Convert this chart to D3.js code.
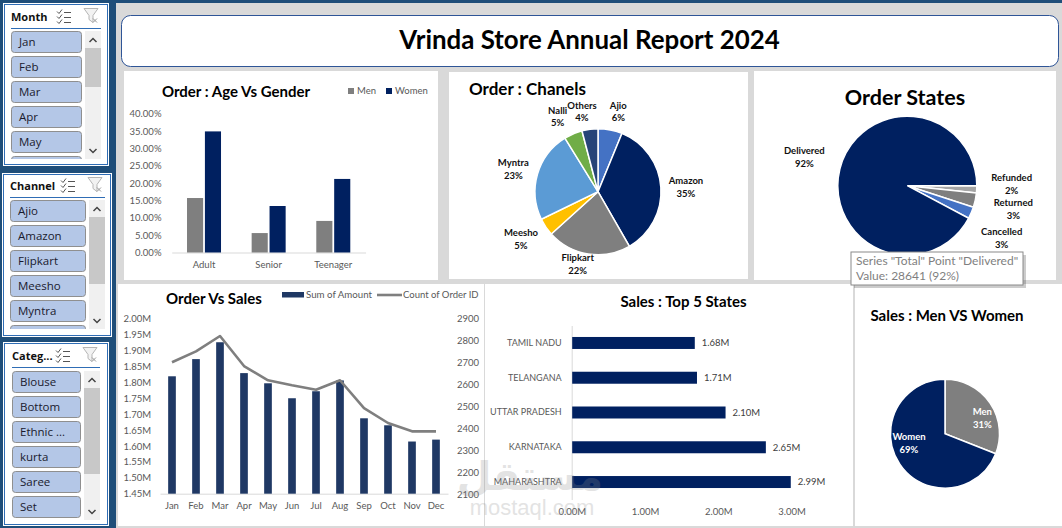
<!DOCTYPE html>
<html>
<head>
<meta charset="utf-8">
<script src="https://cdn.jsdelivr.net/npm/d3@7"></script>
<style>
  html, body { margin: 0; padding: 0; background: #d9d9d9; overflow: hidden; }
  text { font-family: Lato, "Noto Sans", sans-serif; }
  .axis text { fill: #595959; font-size: 9.5px; }
  .axis path, .axis line { stroke: #d9d9d9; }
  .title { font-weight: 700; fill: #000; }
  .pielabel { font-size: 9.5px; font-weight: 700; fill: #111; text-anchor: middle; }
  .slicer text { font-family: "Open Sans", sans-serif; }
</style>
</head>
<body>
<script>
// slicers
const months = ['Jan', 'Feb', 'Mar', 'Apr', 'May'];
const channels = ['Ajio', 'Amazon', 'Flipkart', 'Meesho', 'Myntra'];
const categories = ['Blouse', 'Bottom', 'Ethnic ...', 'kurta', 'Saree', 'Set'];

// age vs gender
const ageGroups = ['Adult', 'Senior', 'Teenager'];
const genders = ['Men', 'Women'];
const menShare = [15.7, 5.6, 9.1];
const womenShare = [34.9, 13.4, 21.2];
const shareTicks = [0, 5, 10, 15, 20, 25, 30, 35, 40];

// channels
const channelNames = ['Ajio', 'Amazon', 'Flipkart', 'Meesho', 'Myntra', 'Nalli', 'Others'];
const channelShare = [6.2, 35.5, 21.6, 4.5, 23.4, 4.7, 4.1];
const channelLabels = ['6%', '35%', '22%', '5%', '23%', '5%', '4%'];

// order states
const stateNames = ['Refunded', 'Returned', 'Cancelled', 'Delivered'];
const stateCounts = [517, 1045, 844, 28641];
const stateLabels = ['2%', '3%', '3%', '92%'];

// order vs sales
const monthNames = ['Jan', 'Feb', 'Mar', 'Apr', 'May', 'Jun', 'Jul', 'Aug', 'Sep', 'Oct', 'Nov', 'Dec'];
const monthAmount = [1.819, 1.873, 1.926, 1.829, 1.797, 1.75, 1.772, 1.806, 1.687, 1.665, 1.614, 1.62];
const monthOrders = [2701, 2751, 2821, 2684, 2619, 2596, 2576, 2619, 2492, 2424, 2386, 2386];
const amountTicks = [1.45, 1.5, 1.55, 1.6, 1.65, 1.7, 1.75, 1.8, 1.85, 1.9, 1.95, 2];
const orderTicks = [2100, 2200, 2300, 2400, 2500, 2600, 2700, 2800, 2900];

// top states
const topStates = ['TAMIL NADU', 'TELANGANA', 'UTTAR PRADESH', 'KARNATAKA', 'MAHARASHTRA'];
const topSales = [1.68, 1.71, 2.1, 2.65, 2.99];
const salesTicks = [0, 1, 2, 3];

// men vs women
const sexNames = ['Men', 'Women'];
const sexShare = [31, 69];

const navy = '#002060';
const grey = '#7f7f7f';

const svg = d3.select('body').append('svg')
  .attr('width', 1062)
  .attr('height', 528)
  .style('display', 'block');

function box(x, y, w, h) {
  svg.append('rect').attr('x', x).attr('y', y).attr('width', w).attr('height', h).attr('fill', '#fff');
}

function title(txt, x, y, size, anchor) {
  svg.append('text').attr('class', 'title')
    .attr('x', x).attr('y', y)
    .attr('dy', '0.35em')
    .attr('text-anchor', anchor || 'middle')
    .style('font-size', size + 'px')
    .text(txt);
}

// frame
svg.append('rect').attr('width', 1062).attr('height', 528).attr('fill', '#d9d9d9');
svg.append('rect').attr('width', 116).attr('height', 528).attr('fill', '#1f4e79');
svg.append('rect').attr('width', 1062).attr('height', 3).attr('fill', '#1f4e79');

box(124, 71, 314, 209);
box(449, 72, 299, 207);
box(754, 71, 302, 209);
box(118, 284, 366, 242);
box(485, 284, 368, 242);
box(855, 284, 207, 242);

svg.append('rect').attr('x', 121.5).attr('y', 15.5).attr('width', 937).attr('height', 51).attr('rx', 9)
  .attr('fill', '#fff').attr('stroke', '#2f5597');
title('Vrinda Store Annual Report 2024', 589.5, 40, 25.9);

// *** slicers
function slicer(o, n) {
  const g = svg.append('g').attr('class', 'slicer');
  g.append('rect').attr('x', o.x).attr('y', o.y).attr('width', o.w).attr('height', o.h).attr('fill', '#fff');
  g.append('rect').attr('x', o.x + 1.5).attr('y', o.y + 1.5).attr('width', o.w - 3).attr('height', o.h - 3)
    .attr('fill', 'none').attr('stroke', '#2f6db5');

  g.append('text').attr('x', o.left).attr('y', o.lineY - 11).attr('dy', '0.35em')
    .style('font-size', '11px').style('font-weight', 700).attr('fill', '#111').text(o.name);
  g.append('line').attr('x1', o.left).attr('x2', o.right).attr('y1', o.lineY).attr('y2', o.lineY)
    .attr('stroke', '#2f6db5').attr('stroke-width', 1);

  // clip so the half visible button gets cut off at the bottom
  const clipId = 'slicerclip' + n;
  g.append('clipPath').attr('id', clipId).append('rect')
    .attr('x', o.left - 2).attr('y', o.top - 1).attr('width', o.btnW + 4).attr('height', o.bottom - o.top + 1);
  const list = g.append('g').attr('clip-path', 'url(#' + clipId + ')');

  const items = o.items.concat(o.extra ? [''] : []);
  const btn = list.selectAll('g').data(items).enter().append('g')
    .attr('transform', (d, i) => 'translate(' + o.left + ' ' + (o.top + i * 25) + ')');
  btn.append('rect').attr('x', 0.5).attr('y', 0.5).attr('width', o.btnW).attr('height', 21).attr('rx', 3)
    .attr('fill', '#b4c7e7').attr('stroke', '#8f8f8f');
  btn.append('text').attr('x', 8).attr('y', 11).attr('dy', '0.35em')
    .style('font-size', '11.5px').attr('fill', '#1a1a2e').text(d => d);

  // scrollbar
  const sx = o.right - 16;
  g.append('rect').attr('x', sx).attr('y', o.top).attr('width', 16).attr('height', o.bottom - o.top).attr('fill', '#f0f0f0');
  g.append('rect').attr('x', sx).attr('y', o.top + 17).attr('width', 16).attr('height', o.thumb).attr('fill', '#c8c8c8');
  g.append('path').attr('d', 'M' + (sx + 4.5) + ' ' + (o.top + 11) + 'l3.5 -3.5l3.5 3.5')
    .attr('fill', 'none').attr('stroke', '#444').attr('stroke-width', 1.5);
  g.append('path').attr('d', 'M' + (sx + 4.5) + ' ' + (o.bottom - 10) + 'l3.5 3.5l3.5 -3.5')
    .attr('fill', 'none').attr('stroke', '#444').attr('stroke-width', 1.5);

  // multi select icon
  const ic = g.append('g').attr('transform', 'translate(' + o.iconX + ' ' + (o.lineY - 19) + ')')
    .attr('fill', 'none').attr('stroke', '#555').attr('stroke-width', 1);
  [0, 5, 10].forEach(function(dy) {
    ic.append('path').attr('d', 'M0 ' + (2 + dy) + 'l2 2l3 -4');
    ic.append('path').attr('d', 'M7 ' + (3 + dy) + 'h7');
  });

  // clear filter icon
  const fi = g.append('g').attr('transform', 'translate(' + o.filterX + ' ' + (o.lineY - 20) + ')')
    .attr('fill', '#f2f2f2').attr('stroke', '#b5b5b5').attr('stroke-width', 1);
  fi.append('path').attr('d', 'M0 0h14l-5 7v7l-4 -3v-4z');
  fi.append('path').attr('d', 'M9 10l4 4M13 10l-4 4').attr('stroke', '#999');
}

slicer({ name: 'Month', items: months, extra: true, x: 3, y: 3, w: 106, h: 163, left: 11, right: 101, lineY: 28.5, top: 31, bottom: 159, btnW: 70, thumb: 39, iconX: 57, filterX: 84 }, 0);
slicer({ name: 'Channel', items: channels, extra: true, x: 2, y: 173, w: 110, h: 164, left: 10, right: 105, lineY: 197.5, top: 200, bottom: 329, btnW: 75, thumb: 67, iconX: 61, filterX: 88 }, 1);
slicer({ name: 'Categ...', items: categories, extra: false, x: 3, y: 342, w: 106, h: 184, left: 12, right: 100, lineY: 367.5, top: 371, bottom: 520, btnW: 68, thumb: 86, iconX: 56, filterX: 83 }, 2);

// *** Order : Age Vs Gender
title('Order : Age Vs Gender', 236, 92, 15);

const ageX = d3.scaleBand().domain(ageGroups).range([171.7, 365.6]);
const genderX = d3.scaleBand().domain(genders).range([ageX.bandwidth() / 2 - 17, ageX.bandwidth() / 2 + 17]).paddingInner(0.1);
const shareY = d3.scaleLinear().domain([0, 40]).range([252.5, 113.7]);

svg.append('g').attr('class', 'axis')
  .attr('transform', 'translate(161.5 0)')
  .call(d3.axisLeft(shareY).tickValues(shareTicks).tickSize(0).tickPadding(0).tickFormat(d => d.toFixed(2) + '%'))
  .call(g => g.select('.domain').remove());
svg.append('g').attr('class', 'axis')
  .attr('transform', 'translate(0 252.5)')
  .call(d3.axisBottom(ageX).tickSize(0).tickPadding(9));

[menShare, womenShare].forEach(function(values, s) {
  svg.append('g').selectAll('rect').data(values).enter().append('rect')
    .attr('x', (d, i) => ageX(ageGroups[i]) + genderX(genders[s]))
    .attr('width', genderX.bandwidth())
    .attr('y', d => shareY(d))
    .attr('height', d => shareY(0) - shareY(d))
    .attr('fill', s === 0 ? grey : navy);
});

const ageLegend = svg.append('g').selectAll('g').data(genders).enter().append('g')
  .attr('transform', (d, i) => 'translate(' + (348 + i * 38) + ' 88)');
ageLegend.append('rect').attr('width', 6).attr('height', 6).attr('fill', (d, i) => i === 0 ? grey : navy);
ageLegend.append('text').attr('x', 9).attr('y', 3).attr('dy', '0.35em')
  .style('font-size', '9.5px').attr('fill', '#595959').text(d => d);

// *** pies
function pie(o) {
  const layout = d3.pie().sort(null).startAngle(o.start).endAngle(o.start + 2 * Math.PI);
  const arc = d3.arc().innerRadius(0).outerRadius(o.r);
  const g = svg.append('g').attr('transform', 'translate(' + o.cx + ' ' + o.cy + ')');

  g.selectAll('path').data(layout(o.values)).enter().append('path')
    .attr('d', arc)
    .attr('fill', (d, i) => o.colors[i])
    .attr('stroke', '#fff')
    .attr('stroke-width', o.stroke);

  const lab = g.selectAll('text.pielabel').data(o.names).enter().append('text')
    .attr('class', 'pielabel')
    .attr('transform', (d, i) => 'translate(' + o.offsets[i][0] + ' ' + o.offsets[i][1] + ')')
    .style('fill', o.labelColor || null);
  lab.append('tspan').attr('x', 0).attr('y', -3).text(d => d);
  lab.append('tspan').attr('x', 0).attr('y', 9.5).text((d, i) => o.labels[i]);
}

title('Order : Chanels', 469, 89, 17, 'start');
pie({
  cx: 598, cy: 191.7, r: 63, start: 0, stroke: 1.5,
  values: channelShare, names: channelNames, labels: channelLabels,
  colors: ['#4472c4', navy, grey, '#ffc000', '#5b9bd5', '#70ad47', '#264478'],
  offsets: [[20.3, -80], [88, -4.7], [-20.3, 72.6], [-77, 47.6], [-84.7, -22.4], [-40.3, -75], [-16, -80]]
});

title('Order States', 905, 97, 21.5);
pie({
  cx: 907.3, cy: 185.7, r: 69.5, start: Math.PI / 2, stroke: 1.5,
  values: stateCounts, names: stateNames, labels: stateLabels,
  colors: ['#a5a5a5', grey, '#4472c4', navy],
  offsets: [[104.4, -1.4], [106, 23.6], [94.4, 52.6], [-103, -28.4]]
});

// *** Order Vs Sales
title('Order Vs Sales', 214, 299, 15);

const monthX = d3.scaleBand().domain(monthNames).range([160, 448]).paddingInner(0.68).paddingOuter(0.34);
const amountY = d3.scaleLinear().domain([1.45, 2]).range([493.7, 318.7]);
const ordersY = d3.scaleLinear().domain([2100, 2900]).range([494, 318.7]);

svg.append('g').attr('class', 'axis')
  .attr('transform', 'translate(151 0)')
  .call(d3.axisLeft(amountY).tickValues(amountTicks).tickSize(0).tickPadding(0).tickFormat(d => d.toFixed(2) + 'M'))
  .call(g => g.select('.domain').remove());
svg.append('g').attr('class', 'axis')
  .attr('transform', 'translate(457 0)')
  .call(d3.axisRight(ordersY).tickValues(orderTicks).tickSize(0).tickPadding(0).tickFormat(d => d))
  .call(g => g.select('.domain').remove());
svg.append('g').attr('class', 'axis')
  .attr('transform', 'translate(0 493.7)')
  .call(d3.axisBottom(monthX).tickSize(0).tickPadding(9));

svg.append('g').selectAll('rect').data(monthAmount).enter().append('rect')
  .attr('x', (d, i) => monthX(monthNames[i]))
  .attr('width', monthX.bandwidth())
  .attr('y', d => amountY(d))
  .attr('height', d => amountY(1.45) - amountY(d))
  .attr('fill', '#1f3864');

const orderLine = d3.line()
  .x((d, i) => monthX(monthNames[i]) + monthX.bandwidth() / 2)
  .y(d => ordersY(d));
svg.append('path').datum(monthOrders)
  .attr('d', orderLine)
  .attr('fill', 'none')
  .attr('stroke', grey)
  .attr('stroke-width', 2.6)
  .attr('stroke-linejoin', 'round');

svg.append('rect').attr('x', 282).attr('y', 292).attr('width', 22).attr('height', 5.5).attr('fill', '#1f3864');
svg.append('text').attr('x', 306).attr('y', 295).attr('dy', '0.35em').style('font-size', '9.7px').attr('fill', '#595959').text('Sum of Amount');
svg.append('line').attr('x1', 377).attr('x2', 402).attr('y1', 295).attr('y2', 295).attr('stroke', grey).attr('stroke-width', 2.6);
svg.append('text').attr('x', 403).attr('y', 295).attr('dy', '0.35em').style('font-size', '9.5px').attr('fill', '#595959').text('Count of Order ID');

// *** Sales : Top 5 States
title('Sales : Top 5 States', 683.5, 302, 15);

const salesX = d3.scaleLinear().domain([0, 3]).range([571.7, 791.5]);
const statesY = d3.scaleBand().domain(topStates).range([325.5, 499.5]).paddingInner(0.655).paddingOuter(0.33);

svg.append('g').attr('class', 'axis')
  .attr('transform', 'translate(571.7 0)')
  .call(d3.axisLeft(statesY).tickSize(0).tickPadding(10))
  .call(g => g.selectAll('text').style('font-size', '9px'));
svg.append('g').attr('class', 'axis')
  .attr('transform', 'translate(0 499.5)')
  .call(d3.axisBottom(salesX).tickValues(salesTicks).tickSize(0).tickPadding(9).tickFormat(d => d.toFixed(2) + 'M'))
  .call(g => g.select('.domain').remove());

svg.append('g').selectAll('rect').data(topSales).enter().append('rect')
  .attr('x', salesX(0) + 0.5)
  .attr('y', (d, i) => statesY(topStates[i]))
  .attr('width', d => salesX(d) - salesX(0) - 0.5)
  .attr('height', statesY.bandwidth())
  .attr('fill', navy);
svg.append('g').selectAll('text').data(topSales).enter().append('text')
  .attr('x', d => salesX(d) + 7)
  .attr('y', (d, i) => statesY(topStates[i]) + statesY.bandwidth() / 2)
  .attr('dy', '0.35em')
  .style('font-size', '9.5px')
  .attr('fill', '#404040')
  .text(d => d.toFixed(2) + 'M');

// *** Sales : Men VS Women
title('Sales : Men VS Women', 947, 316, 15);
pie({
  cx: 945, cy: 433.7, r: 54.5, start: 0, stroke: 1.5, labelColor: '#fff',
  values: sexShare, names: sexNames, labels: sexShare.map(d => d + '%'),
  colors: [grey, navy],
  offsets: [[37.3, -15.7], [-36, 9.6]]
});

// watermark sits over everything
const mark = svg.append('g').attr('fill', '#8c8c8c').attr('opacity', 0.24).attr('text-anchor', 'middle');
mark.append('text').attr('x', 530).attr('y', 490)
  .style('font-family', '"DejaVu Sans", sans-serif').style('font-size', '40px').style('font-weight', 700).text('مستقل');
mark.append('text').attr('x', 532).attr('y', 515)
  .style('font-family', '"Liberation Sans", sans-serif').style('font-size', '22px').text('mostaql.com');

// tooltip left open on the Delivered slice
const tip = svg.append('g');
tip.append('rect').attr('x', 854).attr('y', 255).attr('width', 172).attr('height', 33).attr('fill', '#000').attr('opacity', 0.2);
tip.append('rect').attr('x', 851).attr('y', 252).attr('width', 172).attr('height', 33).attr('fill', '#fff').attr('stroke', '#8a8a8a');
tip.append('text').attr('x', 856).attr('y', 260.5).attr('dy', '0.35em').style('font-size', '12px').attr('fill', '#7f7f7f').text('Series "Total" Point "Delivered"');
tip.append('text').attr('x', 856).attr('y', 276).attr('dy', '0.35em').style('font-size', '12px').attr('fill', '#7f7f7f').text('Value: 28641 (92%)');
</script>
</body>
</html>
